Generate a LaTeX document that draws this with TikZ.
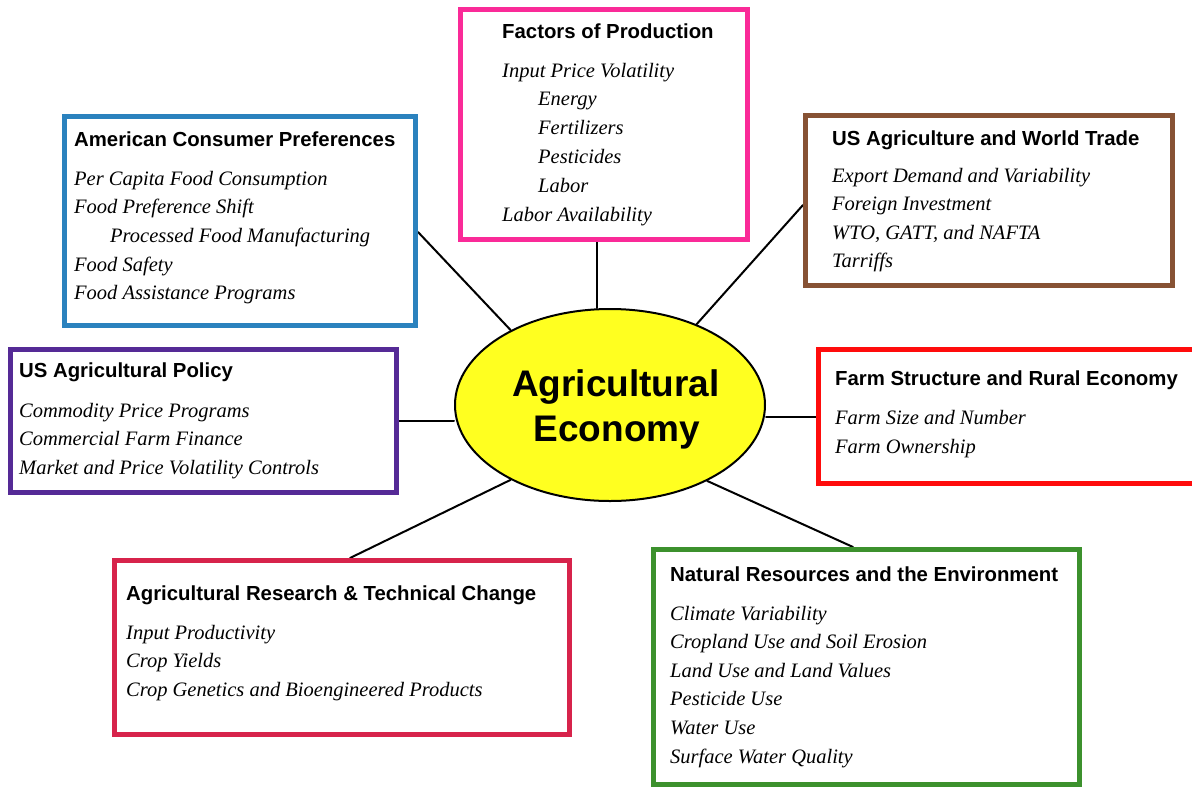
\documentclass[tikz,border=0pt]{standalone}
\usepackage{fontspec}
\setmainfont{Liberation Serif}
\setsansfont{Liberation Sans}
\usetikzlibrary{shapes.geometric,backgrounds}
\definecolor{cblue}{RGB}{43,130,190}
\definecolor{cpink}{RGB}{250,42,152}
\definecolor{cbrown}{RGB}{135,82,52}
\definecolor{cred}{RGB}{255,12,12}
\definecolor{cgreen}{RGB}{60,145,45}
\definecolor{ccrimson}{RGB}{215,35,75}
\definecolor{cpurple}{RGB}{85,42,150}
\definecolor{cyellow}{RGB}{255,255,32}
\begin{document}
\begin{tikzpicture}[x=1pt,y=-1pt,
  box/.style={draw=#1, line width=5pt, fill=white, inner sep=0pt, rectangle},
  ttl/.style={anchor=base west, inner sep=0pt, font=\sffamily\bfseries\fontsize{20.35}{24}\selectfont},
  itm/.style={anchor=base west, inner sep=0pt, font=\itshape\fontsize{20.5}{24}\selectfont},
  big/.style={anchor=base, inner sep=0pt, font=\sffamily\bfseries\fontsize{37}{44}\selectfont},
  conn/.style={line width=2pt, line cap=round}]
\useasboundingbox (0,0) rectangle (1192,788);

% boxes
\node[box=cblue, minimum width=351pt, minimum height=209pt] (cons) at (240,221) {};
\node[box=cpink, minimum width=287pt, minimum height=230pt] (fac) at (604,124.5) {};
\node[box=cbrown, minimum width=367pt, minimum height=170pt] (trade) at (989,200.5) {};
\node[box=cred, minimum width=389pt, minimum height=134pt] (farm) at (1013,416.5) {};
\node[box=cgreen, minimum width=426pt, minimum height=235pt] (nat) at (866.5,667) {};
\node[box=ccrimson, minimum width=455pt, minimum height=174pt] (res) at (342,647.5) {};
\node[box=cpurple, minimum width=386pt, minimum height=143pt] (pol) at (203.5,421) {};

% centre
\node[ellipse, draw, line width=2pt, fill=cyellow, minimum width=310pt, minimum height=192pt, inner sep=0pt] (eco) at (610,405) {};
\node[big] (eco-t1) at (616,396) {Agricultural};
\node[big] (eco-t2) at (617,441) {Economy};

% connectors
\begin{scope}[on background layer]
\draw[conn] ([yshift=-11pt]cons.east) -- (eco.143);
\draw[conn] ([xshift=-7pt]fac.south) -- ([xshift=-13pt]eco.north);
\draw[conn] ([yshift=-4.5pt]trade.west) -- (eco.43);
\draw[conn] (farm.west) -- (farm.west -| eco.east);
\draw[conn] (pol.east) -- (pol.east -| eco.west);
\draw[conn] ([xshift=-13.5pt]nat.north) -- (eco.-38);
\draw[conn] ([xshift=8pt]res.north) -- (eco.-143);
\end{scope}

% texts
\node[ttl] (cons-t) at (74,146) {American Consumer Preferences};
\foreach \dx/\t [count=\i] in {0/Per Capita Food Consumption, 0/Food Preference Shift, 36/Processed Food Manufacturing, 0/Food Safety, 0/Food Assistance Programs}
  \node[itm] (cons-\i) at (74+\dx, 156.3+28.7*\i) {\t};

\node[ttl] (fac-t) at (502,38) {Factors of Production};
\foreach \dx/\t [count=\i] in {0/Input Price Volatility, 36/Energy, 36/Fertilizers, 36/Pesticides, 36/Labor, 0/Labor Availability}
  \node[itm] (fac-\i) at (502+\dx, 48.2+28.8*\i) {\t};

\node[ttl] (trade-t) at (832,145) {US Agriculture and World Trade};
\foreach \t [count=\i] in {Export Demand and Variability, Foreign Investment, {WTO, GATT, and NAFTA}, Tarriffs}
  \node[itm] (trade-\i) at (832, 153.5+28.5*\i) {\t};

\node[ttl] (farm-t) at (835,385) {Farm Structure and Rural Economy};
\foreach \t [count=\i] in {Farm Size and Number, Farm Ownership}
  \node[itm] (farm-\i) at (835, 395+29*\i) {\t};

\node[ttl] (pol-t) at (19,377) {US Agricultural Policy};
\foreach \t [count=\i] in {Commodity Price Programs, Commercial Farm Finance, Market and Price Volatility Controls}
  \node[itm] (pol-\i) at (19, 388.5+28.5*\i) {\t};

\node[ttl] (res-t) at (126,600) {Agricultural Research \& Technical Change};
\foreach \t [count=\i] in {Input Productivity, Crop Yields, Crop Genetics and Bioengineered Products}
  \node[itm] (res-\i) at (126, 610.5+28.5*\i) {\t};

\node[ttl] (nat-t) at (670,581) {Natural Resources and the Environment};
\foreach \t [count=\i] in {Climate Variability, Cropland Use and Soil Erosion, Land Use and Land Values, Pesticide Use, Water Use, Surface Water Quality}
  \node[itm] (nat-\i) at (670, 591.4+28.6*\i) {\t};
\end{tikzpicture}
\end{document}
